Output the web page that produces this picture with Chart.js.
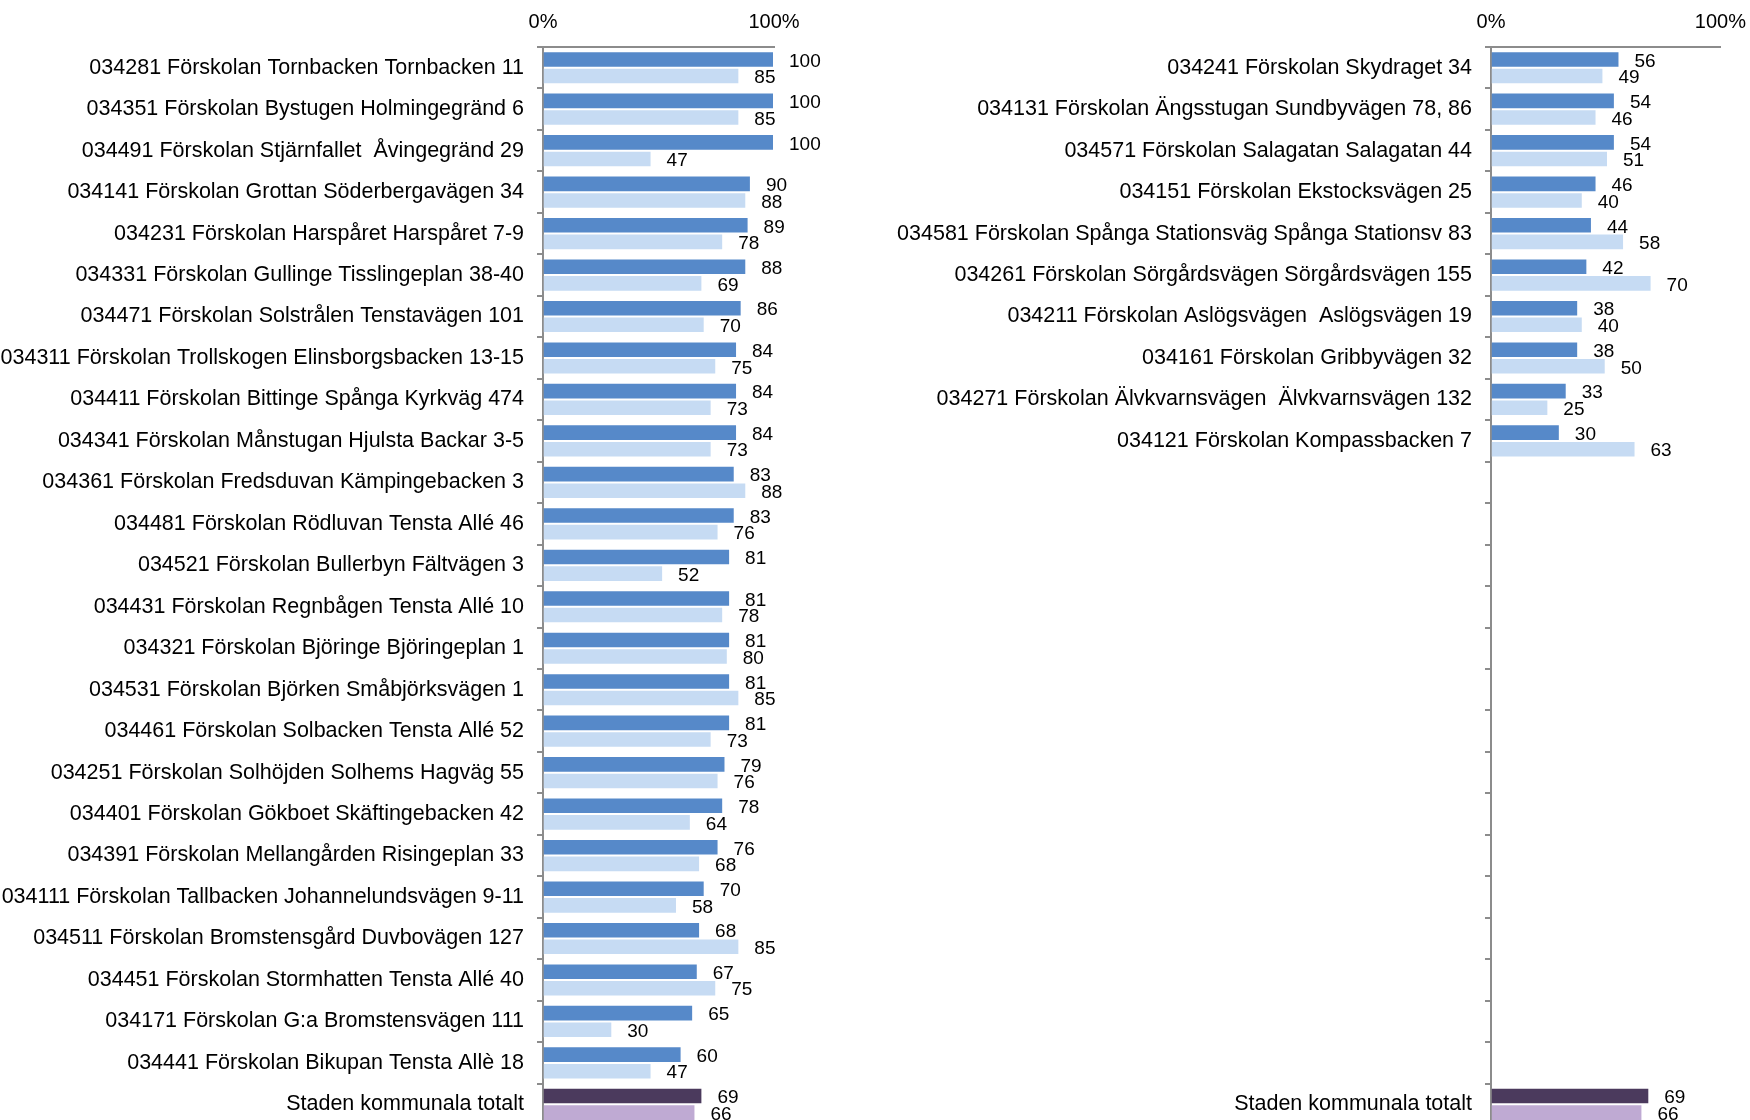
<!DOCTYPE html>
<html>
<head>
<meta charset="utf-8">
<script src="https://cdn.jsdelivr.net/npm/chart.js@4"></script>
<style>
  html, body { margin: 0; padding: 0; background: #fff; overflow: hidden; }
  #wrap { position: relative; width: 1750px; height: 1120px; overflow: hidden; }
  #leftChart { position: absolute; left: 0; top: 0; }
  #rightChart { position: absolute; left: 860px; top: 0; }
</style>
</head>
<body>
<div id="wrap">
  <canvas id="leftChart" width="860" height="1151"></canvas>
  <canvas id="rightChart" width="899" height="1151"></canvas>
</div>
<script>
const leftLabels = [
    '034281 Förskolan Tornbacken Tornbacken 11',
    '034351 Förskolan Bystugen Holmingegränd 6',
    '034491 Förskolan Stjärnfallet  Åvingegränd 29',
    '034141 Förskolan Grottan Söderbergavägen 34',
    '034231 Förskolan Harspåret Harspåret 7-9',
    '034331 Förskolan Gullinge Tisslingeplan 38-40',
    '034471 Förskolan Solstrålen Tenstavägen 101',
    '034311 Förskolan Trollskogen Elinsborgsbacken 13-15',
    '034411 Förskolan Bittinge Spånga Kyrkväg 474',
    '034341 Förskolan Månstugan Hjulsta Backar 3-5',
    '034361 Förskolan Fredsduvan Kämpingebacken 3',
    '034481 Förskolan Rödluvan Tensta Allé 46',
    '034521 Förskolan Bullerbyn Fältvägen 3',
    '034431 Förskolan Regnbågen Tensta Allé 10',
    '034321 Förskolan Björinge Björingeplan 1',
    '034531 Förskolan Björken Småbjörksvägen 1',
    '034461 Förskolan Solbacken Tensta Allé 52',
    '034251 Förskolan Solhöjden Solhems Hagväg 55',
    '034401 Förskolan Gökboet Skäftingebacken 42',
    '034391 Förskolan Mellangården Risingeplan 33',
    '034111 Förskolan Tallbacken Johannelundsvägen 9-11',
    '034511 Förskolan Bromstensgård Duvbovägen 127',
    '034451 Förskolan Stormhatten Tensta Allé 40',
    '034171 Förskolan G:a Bromstensvägen 111',
    '034441 Förskolan Bikupan Tensta Allè 18',
    'Staden kommunala totalt'
];
const leftCurrent = [100, 100, 100, 90, 89, 88, 86, 84, 84, 84, 83, 83, 81, 81, 81, 81, 81, 79, 78, 76, 70, 68, 67, 65, 60, 69];
const leftPrevious = [85, 85, 47, 88, 78, 69, 70, 75, 73, 73, 88, 76, 52, 78, 80, 85, 73, 76, 64, 68, 58, 85, 75, 30, 47, 66];

// right panel: ten units, empty rows, then the city total on the same row as the left panel
const rightLabels = [
    '034241 Förskolan Skydraget 34',
    '034131 Förskolan Ängsstugan Sundbyvägen 78, 86',
    '034571 Förskolan Salagatan Salagatan 44',
    '034151 Förskolan Ekstocksvägen 25',
    '034581 Förskolan Spånga Stationsväg Spånga Stationsv 83',
    '034261 Förskolan Sörgårdsvägen Sörgårdsvägen 155',
    '034211 Förskolan Aslögsvägen  Aslögsvägen 19',
    '034161 Förskolan Gribbyvägen 32',
    '034271 Förskolan Älvkvarnsvägen  Älvkvarnsvägen 132',
    '034121 Förskolan Kompassbacken 7',
    '', '', '', '', '', '', '', '', '', '', '', '', '', '', '',
    'Staden kommunala totalt'
];
const rightCurrent = [56, 54, 54, 46, 44, 42, 38, 38, 33, 30,
    null, null, null, null, null, null, null, null, null, null, null, null, null, null, null, 69];
const rightPrevious = [49, 46, 51, 40, 58, 70, 40, 50, 25, 63,
    null, null, null, null, null, null, null, null, null, null, null, null, null, null, null, 66];

const xTicks = [0, 100];
const totalLabel = 'Staden kommunala totalt';

const FONT = "'Liberation Sans', Arial, sans-serif";
const AXIS_GREY = '#8c8c8c';

const valueLabels = {
    id: 'valueLabels',
    afterDatasetsDraw(chart) {
        const ctx = chart.ctx;
        ctx.save();
        ctx.font = '19px ' + FONT;
        ctx.fillStyle = '#000';
        ctx.textAlign = 'left';
        ctx.textBaseline = 'middle';
        chart.data.datasets.forEach((ds, i) => {
            chart.getDatasetMeta(i).data.forEach((bar, j) => {
                const v = ds.data[j];
                if (v === null || v === undefined) return;
                ctx.fillText(String(v), bar.x + 15, bar.y + 2);
            });
        });
        ctx.restore();
    }
};

function makeChart(id, labels, current, previous, axisWidth, padRight) {
    const darkCols = labels.map(l => l === totalLabel ? '#4b3a5d' : '#5689c9');
    const lightCols = labels.map(l => l === totalLabel ? '#bfaad3' : '#c6dbf3');
    return new Chart(document.getElementById(id), {
        type: 'bar',
        data: {
            labels: labels,
            datasets: [{
                data: current,
                backgroundColor: darkCols,
                borderColor: 'rgba(255,255,255,0.35)',
                borderWidth: 1,
                borderSkipped: 'left',
                categoryPercentage: 0.8,
                barPercentage: 1.0
            }, {
                data: previous,
                backgroundColor: lightCols,
                borderColor: 'rgba(255,255,255,0.35)',
                borderWidth: 1,
                borderSkipped: 'left',
                categoryPercentage: 0.8,
                barPercentage: 1.0
            }]
        },
        options: {
            indexAxis: 'y',
            responsive: false,
            animation: false,
            devicePixelRatio: 1,
            layout: { padding: { top: 0, right: padRight, bottom: 0, left: 0 } },
            plugins: {
                legend: { display: false },
                tooltip: { enabled: false }
            },
            scales: {
                x: {
                    position: 'top',
                    min: 0,
                    max: 100,
                    afterBuildTicks: axis => { axis.ticks = xTicks.map(v => ({ value: v })); },
                    afterFit: axis => { axis.height = 47; },
                    grid: { display: true, drawOnChartArea: false, drawTicks: false },
                    border: { display: true, color: AXIS_GREY, width: 2 },
                    ticks: {
                        padding: 13,
                        color: '#000',
                        font: { family: FONT, size: 20 },
                        callback: v => v + '%'
                    }
                },
                y: {
                    afterFit: axis => { axis.width = axisWidth; },
                    grid: {
                        offset: true,
                        drawOnChartArea: false,
                        drawTicks: true,
                        tickLength: 6,
                        color: AXIS_GREY,
                        lineWidth: 2
                    },
                    border: { display: true, color: AXIS_GREY, width: 2 },
                    ticks: {
                        padding: 13,
                        color: '#000',
                        font: { family: FONT, size: 21.5 },
                        autoSkip: false
                    }
                }
            }
        },
        plugins: [valueLabels]
    });
}

makeChart('leftChart', leftLabels, leftCurrent, leftPrevious, 543, 86);
makeChart('rightChart', rightLabels, rightCurrent, rightPrevious, 631, 21);
</script>
</body>
</html>
